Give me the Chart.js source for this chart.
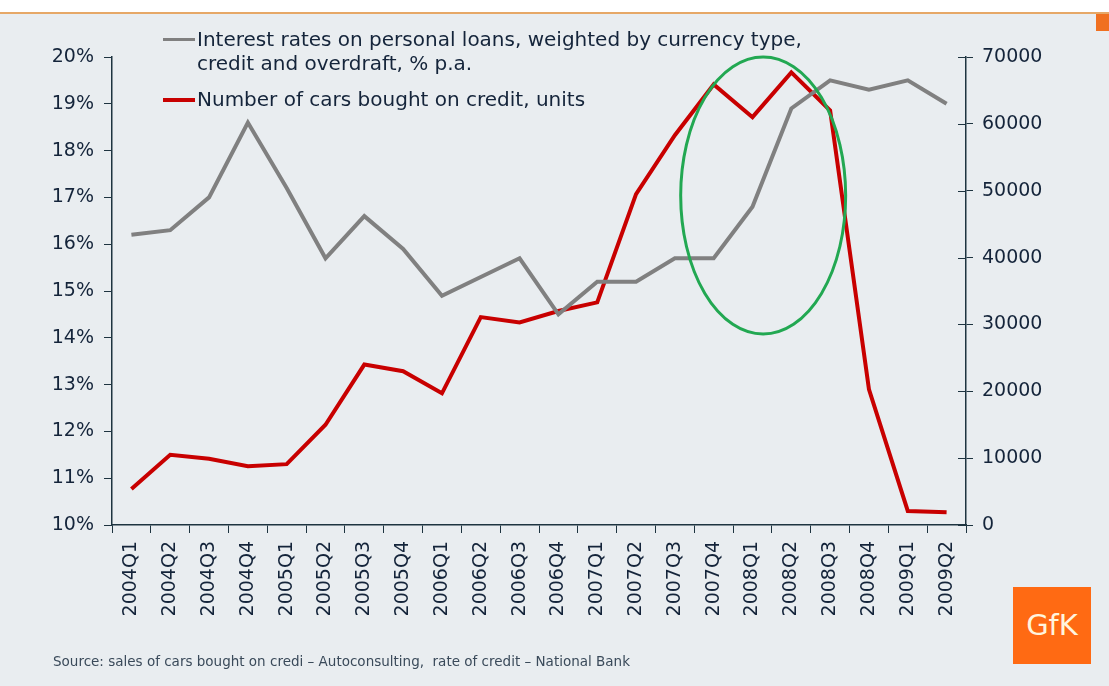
<!DOCTYPE html>
<html><head><meta charset="utf-8">
<script src="https://cdn.jsdelivr.net/npm/chart.js@4.4.1/dist/chart.umd.min.js"></script>
<style>
html,body{margin:0;padding:0;}
body{width:1109px;height:686px;position:relative;overflow:hidden;background:#e9edf0;font-family:"DejaVu Sans",Verdana,sans-serif;}
#topbar{position:absolute;left:0;top:0;width:1109px;height:12px;background:#ffffff;border-bottom:2px solid #e6a867;}
#corner{position:absolute;left:1096px;top:14px;width:13px;height:17px;background:#f07020;}
#wrap{position:absolute;left:0;top:0;width:1109px;height:686px;}
.leg{position:absolute;font-size:20px;color:#14243a;line-height:24px;white-space:nowrap;}
.sw{position:absolute;height:3px;width:32px;}
#src{position:absolute;left:53px;top:653px;font-size:13.5px;color:#3a4a5a;white-space:nowrap;}
#logo{position:absolute;left:1013px;top:587px;width:78px;height:77px;background:#ff6a13;color:#fff4de;font-size:29px;line-height:77px;text-align:center;}
</style></head>
<body>
<div id="topbar"></div><div id="corner"></div>
<div id="wrap"><canvas id="c" width="1109" height="686"></canvas></div>
<div class="sw" style="left:163px;top:38px;background:#808080"></div>
<div class="leg" style="left:197px;top:27px">Interest rates on personal loans, weighted by currency type,<br>credit and overdraft, % p.a.</div>
<div class="sw" style="left:163px;top:98px;background:#c80000;height:4px"></div>
<div class="leg" style="left:197px;top:87px">Number of cars bought on credit, units</div>
<div id="src">Source: sales of cars bought on credi – Autoconsulting,&nbsp; rate of credit – National Bank</div>
<div id="logo">GfK</div>
<script>
const categories = ["2004Q1","2004Q2","2004Q3","2004Q4","2005Q1","2005Q2","2005Q3","2005Q4","2006Q1","2006Q2","2006Q3","2006Q4","2007Q1","2007Q2","2007Q3","2007Q4","2008Q1","2008Q2","2008Q3","2008Q4","2009Q1","2009Q2"];
const interestRates = [16.2,16.3,17.0,18.6,17.2,15.7,16.6,15.9,14.9,15.3,15.7,14.5,15.2,15.2,15.7,15.7,16.8,18.9,19.5,19.3,19.5,19.0];
const carsOnCredit = [5400,10500,9900,8800,9100,15000,24000,23000,19700,31100,30300,32000,33300,49500,58300,65900,61000,67700,62000,20300,2100,1900];
const leftTicks = [10,11,12,13,14,15,16,17,18,19,20];
const rightTicks = [0,10000,20000,30000,40000,50000,60000,70000];
// highlight ellipse (annotation) in data units
const ellipseX = [14.15, 18.4];
const ellipseY = [14.08, 20.0];

const axisColor = '#1e3440';
const textColor = '#14243a';
const font = {family:'"DejaVu Sans", Verdana, sans-serif', size:19};

const extras = {
  id:'extras',
  afterDatasetsDraw(chart){
    const {ctx, scales:{x, y, y2}} = chart;
    ctx.save();
    ctx.strokeStyle = axisColor; ctx.lineWidth = 1;
    rightTicks.forEach(v=>{
      const py = Math.round(y2.getPixelForValue(v))+0.5;
      ctx.beginPath(); ctx.moveTo(y2.left-8, py); ctx.lineTo(y2.left, py); ctx.stroke();
    });
    const x0 = x.getPixelForValue(ellipseX[0]), x1 = x.getPixelForValue(ellipseX[1]);
    const y0 = y.getPixelForValue(ellipseY[0]), y1 = y.getPixelForValue(ellipseY[1]);
    ctx.strokeStyle = '#22a852'; ctx.lineWidth = 3;
    ctx.beginPath();
    ctx.ellipse((x0+x1)/2, (y0+y1)/2, Math.abs(x1-x0)/2, Math.abs(y0-y1)/2, 0, 0, Math.PI*2);
    ctx.stroke();
    ctx.restore();
  }
};

new Chart(document.getElementById('c'), {
  type:'line',
  data:{
    labels:categories,
    datasets:[
      {label:'Interest rates', data:interestRates, yAxisID:'y', borderColor:'#808080', borderWidth:4, pointRadius:0, tension:0, borderJoinStyle:'miter'},
      {label:'Cars on credit', data:carsOnCredit, yAxisID:'y2', borderColor:'#c80000', borderWidth:4, pointRadius:0, tension:0, borderJoinStyle:'miter'}
    ]
  },
  options:{
    responsive:false, animation:false,
    layout:{padding:{top:57,left:0,right:0,bottom:0}},
    plugins:{legend:{display:false}, tooltip:{enabled:false}},
    scales:{
      x:{
        offset:true,
        grid:{offset:true, drawOnChartArea:false, color:axisColor, tickLength:8},
        border:{color:axisColor, width:1.5},
        ticks:{color:textColor, font:font, minRotation:90, maxRotation:90, padding:8, autoSkip:false},
        afterFit(s){ s.height = 161; }
      },
      y:{
        position:'left', min:10, max:20,
        afterBuildTicks(s){ s.ticks = leftTicks.map(v=>({value:v})); },
        grid:{drawOnChartArea:false, color:axisColor, tickLength:8},
        border:{color:axisColor, width:1.5},
        ticks:{color:textColor, font:font, padding:10, callback:v=>v+'%'},
        afterFit(s){ s.width = 112; }
      },
      y2:{
        position:'right', min:0, max:70000,
        afterBuildTicks(s){ s.ticks = rightTicks.map(v=>({value:v})); },
        grid:{drawOnChartArea:false, color:axisColor, tickLength:7},
        border:{color:axisColor, width:1.5},
        ticks:{color:textColor, font:font, padding:9, callback:v=>String(v)},
        afterFit(s){ s.width = 143; }
      }
    }
  },
  plugins:[extras]
});
</script>
</body></html>
